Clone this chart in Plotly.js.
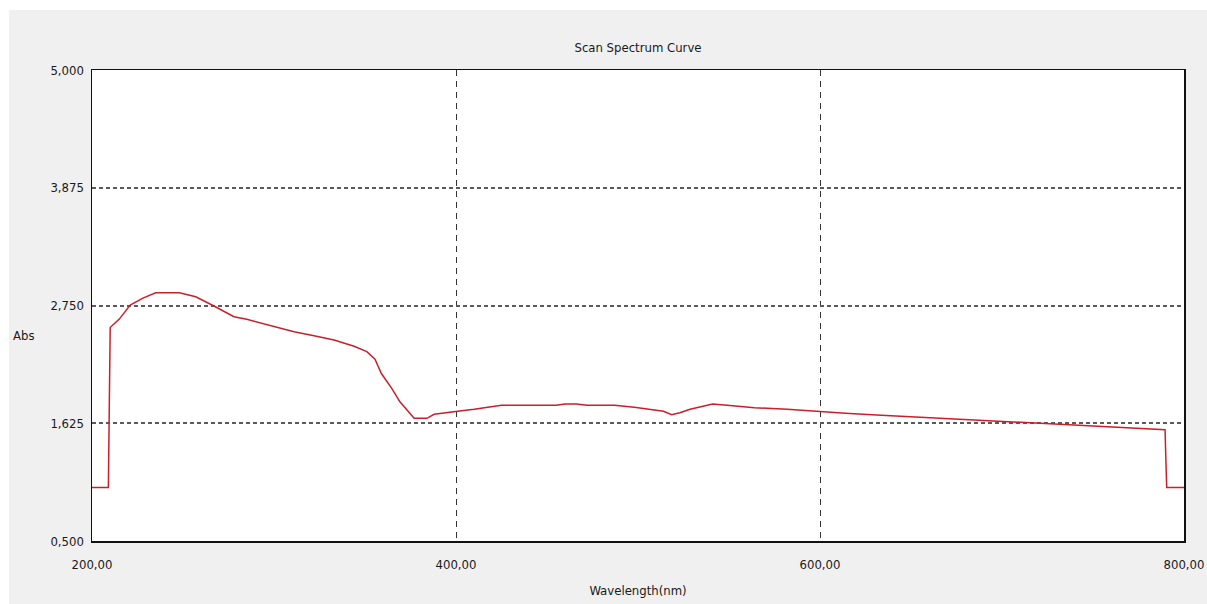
<!DOCTYPE html>
<html><head><meta charset="utf-8">
<script src="https://cdn.plot.ly/plotly-3.0.1.min.js"></script>
<style>
html,body{margin:0;padding:0;background:#fff;width:1207px;height:604px;overflow:hidden;}
#chart{position:absolute;left:9px;top:10px;width:1198px;height:594px;}
</style></head><body>
<div id="chart"></div>
<script>
const wavelength = [200, 209, 209.5, 210, 215, 221, 228, 235, 248, 257, 267, 278, 285, 298, 311, 322, 333, 344, 351, 355.5, 359, 364.7, 369.2, 377, 384, 388, 394, 402, 410, 417, 425, 440, 455, 460, 466, 472, 487, 498, 506, 514, 518.5, 523, 528.6, 534, 541, 549, 564, 582, 597, 614, 631, 649, 667, 685, 704, 724, 744, 765, 782, 789.6, 790, 790.5, 800];
const absorbance = [1.01, 1.01, 1.78, 2.54, 2.62, 2.755, 2.82, 2.872, 2.872, 2.834, 2.745, 2.643, 2.618, 2.56, 2.50, 2.46, 2.42, 2.36, 2.309, 2.236, 2.10, 1.959, 1.83, 1.672, 1.672, 1.71, 1.726, 1.742, 1.758, 1.777, 1.796, 1.796, 1.796, 1.81, 1.81, 1.796, 1.796, 1.777, 1.758, 1.739, 1.707, 1.726, 1.758, 1.783, 1.809, 1.796, 1.774, 1.758, 1.739, 1.72, 1.704, 1.688, 1.669, 1.653, 1.634, 1.621, 1.602, 1.583, 1.564, 1.564, 1.30, 1.01, 1.01];
const xTickVals = [200, 400, 600, 800];
const xTickText = ['200,00', '400,00', '600,00', '800,00'];
const yTickVals = [0.5, 1.625, 2.75, 3.875, 5.0];
const yTickText = ['0,500', '1,625', '2,750', '3,875', '5,000'];

const fontFam = '"DejaVu Sans Condensed", "Liberation Sans Narrow", "Liberation Sans", Arial, sans-serif';

const trace = {
  x: wavelength, y: absorbance, type: 'scatter', mode: 'lines',
  line: {color: '#c8202a', width: 1.5}, hoverinfo: 'skip'
};

const layout = {
  width: 1198, height: 594,
  paper_bgcolor: '#f0f0f0', plot_bgcolor: '#ffffff',
  margin: {l: 83, r: 23, t: 60, b: 63},
  showlegend: false,
  font: {family: fontFam, size: 13, color: '#1a1a1a'},
  title: {text: 'Scan Spectrum Curve', x: 0.5, xref: 'paper', y: 1, yref: 'paper', yanchor: 'bottom', pad: {b: 18}, font: {family: fontFam, size: 13, color: '#1a1a1a'}},
  xaxis: {
    range: [200, 800], tickvals: xTickVals, ticktext: xTickText,
    showgrid: true, gridcolor: '#333333', gridwidth: 1, griddash: '6px,5px',
    showline: true, mirror: true, linecolor: '#111111', linewidth: 1.5,
    zeroline: false, ticks: 'outside', ticklen: 11, tickcolor: 'rgba(0,0,0,0)',
    title: {text: 'Wavelength(nm)', standoff: 15, font: {family: fontFam, size: 13}},
    fixedrange: true
  },
  yaxis: {
    range: [0.5, 5.0], tickvals: yTickVals, ticktext: yTickText,
    showgrid: true, gridcolor: '#5a5a5a', gridwidth: 2, griddash: '4px,3px',
    showline: true, mirror: true, linecolor: '#111111', linewidth: 1.5,
    zeroline: false, ticks: 'outside', ticklen: 4, tickcolor: 'rgba(0,0,0,0)',
    fixedrange: true
  },
  annotations: [{
    text: 'Abs', xref: 'paper', yref: 'paper', x: -0.0745, y: 0.437,
    xanchor: 'left', yanchor: 'middle', showarrow: false,
    font: {family: fontFam, size: 13, color: '#1a1a1a'}
  }]
};

Plotly.newPlot('chart', [trace], layout, {staticPlot: true, displayModeBar: false});
</script>
</body></html>
